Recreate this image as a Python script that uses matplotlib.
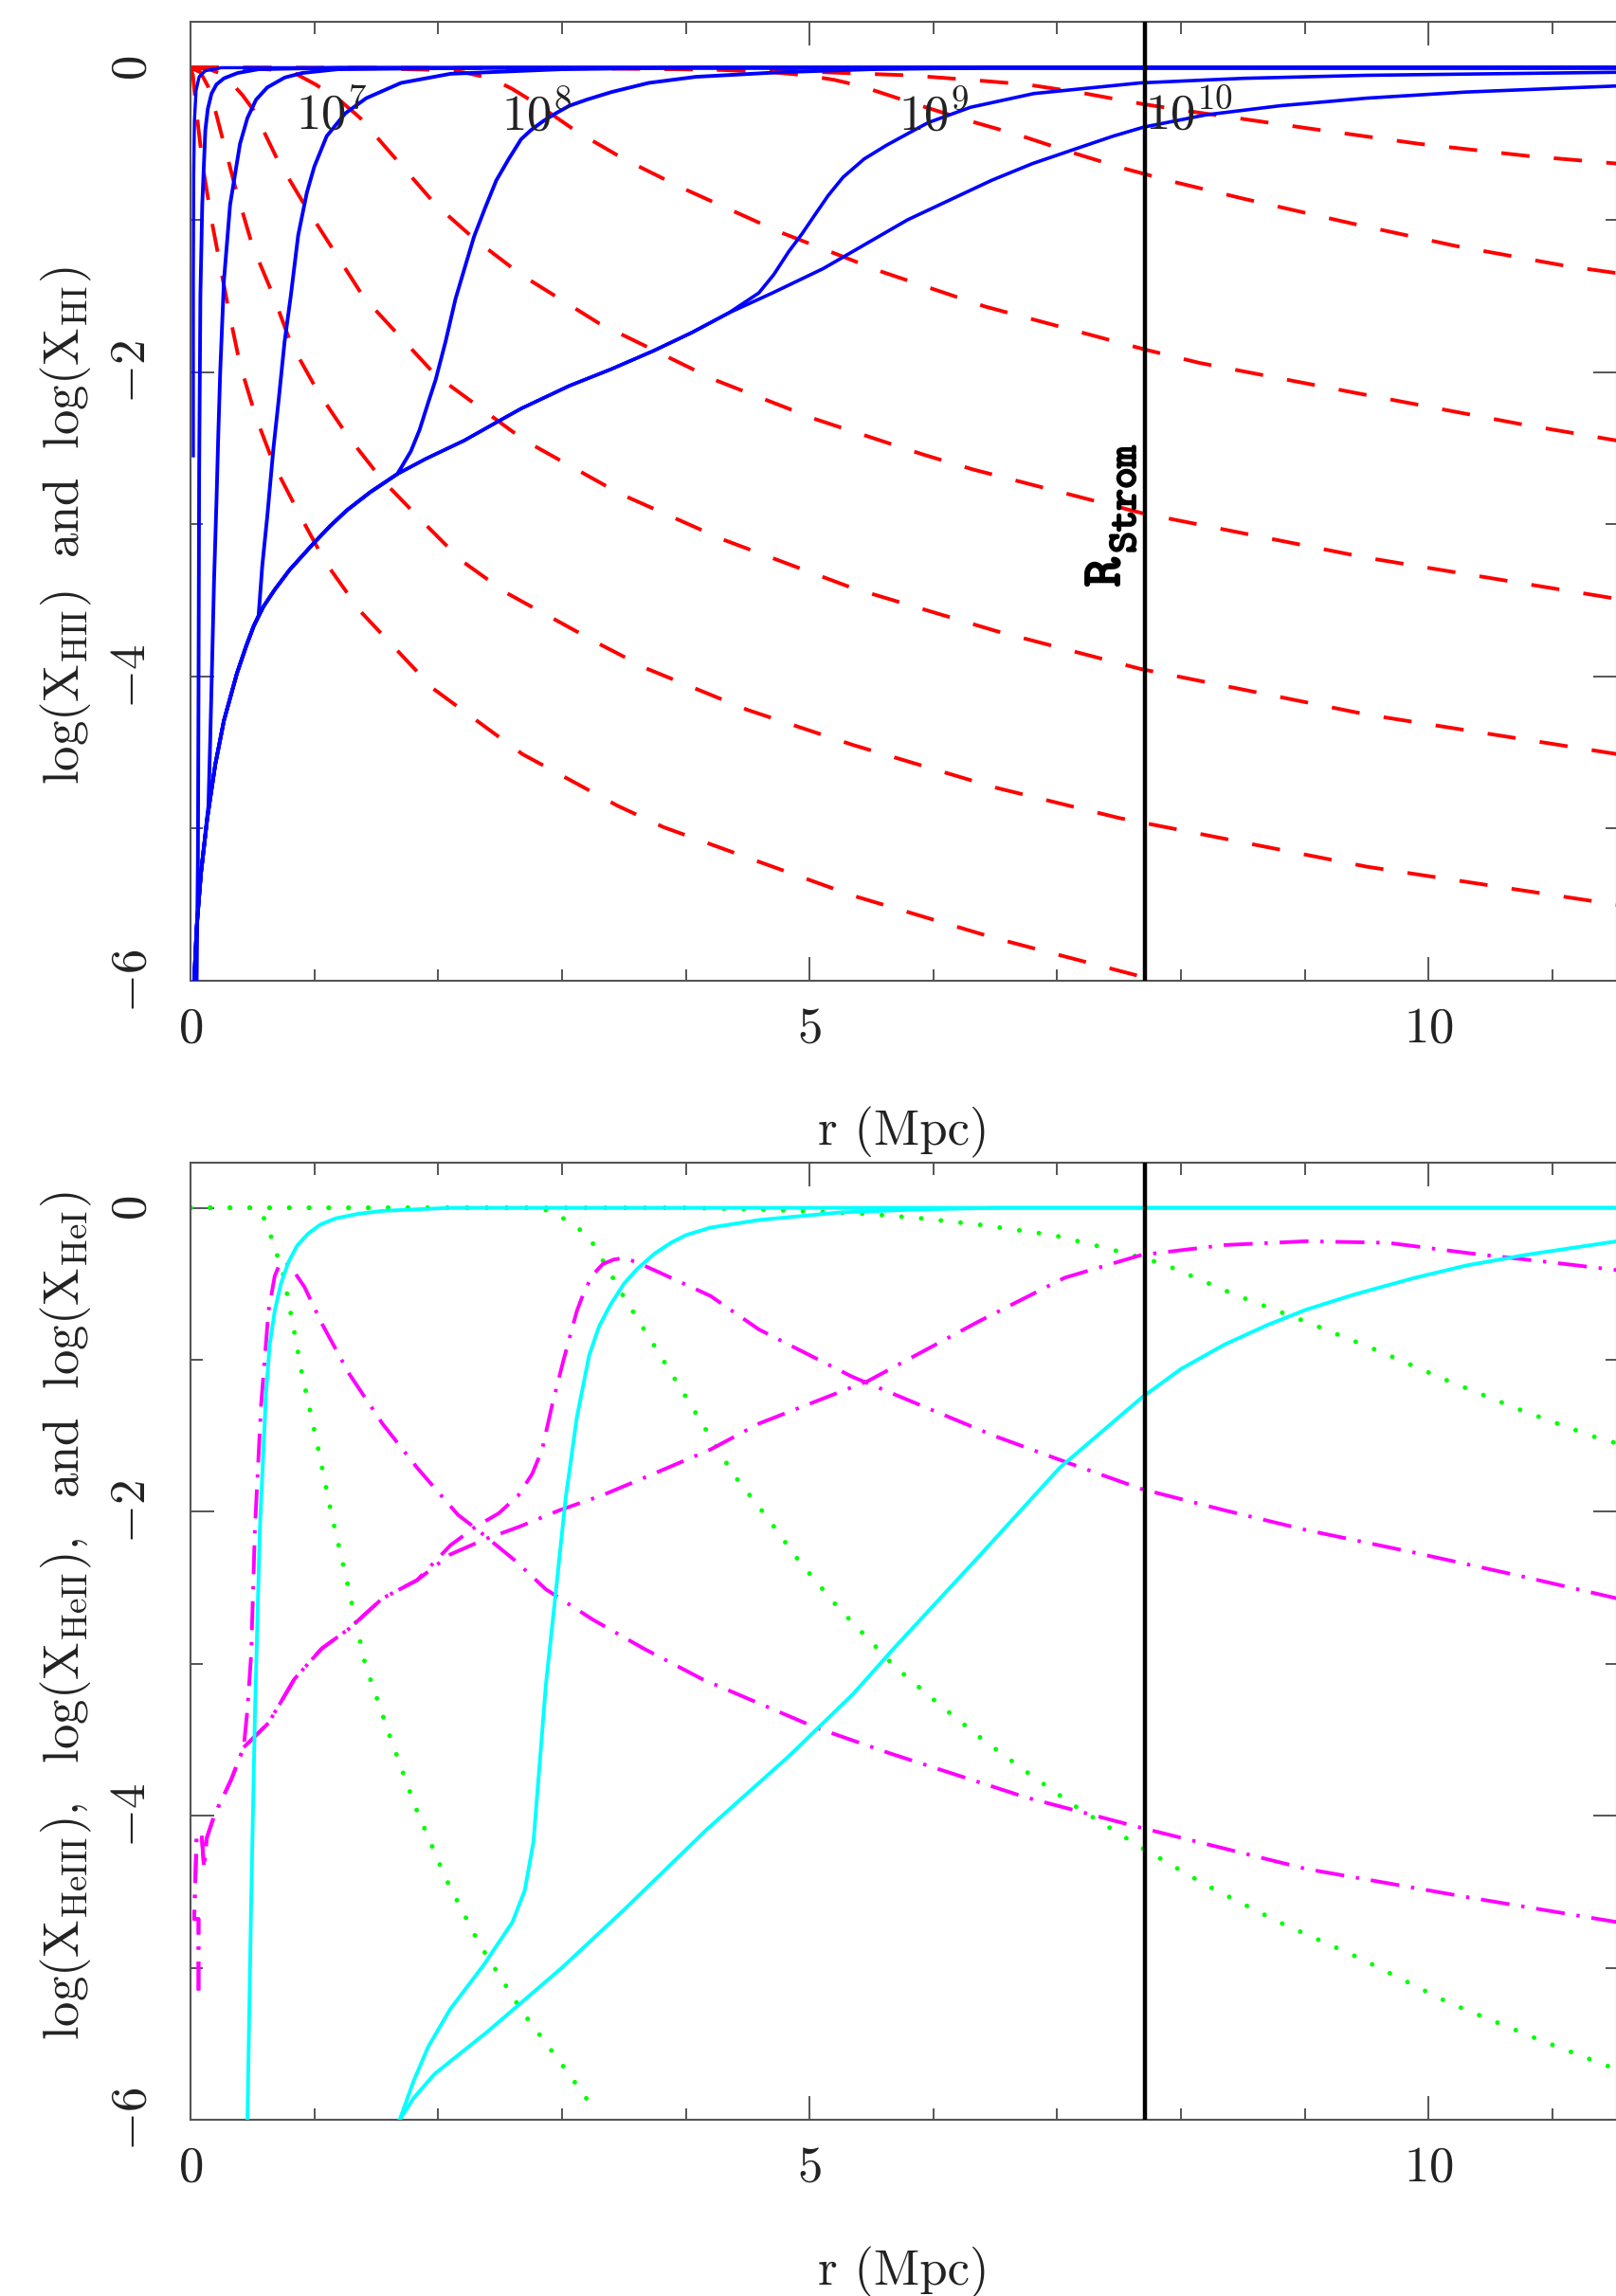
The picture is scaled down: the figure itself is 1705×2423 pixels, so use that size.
import matplotlib
matplotlib.use('Agg')
import matplotlib.pyplot as plt
import matplotlib.patheffects as pe
from matplotlib.ticker import MultipleLocator

plt.rcParams['font.family'] = 'cmr10'
plt.rcParams['mathtext.fontset'] = 'cm'
plt.rcParams['axes.formatter.use_mathtext'] = True
plt.rcParams['lines.scale_dashes'] = False

# ---------------- top panel : log(X_HII) (blue) and log(X_HI) (red) ----------------
# shared lower envelope of the late-time X_HII curves
env_r = [0.03, 0.05, 0.085, 0.136, 0.20, 0.27, 0.375, 0.45, 0.51, 0.59, 0.68, 0.8, 0.9, 1.0, 1.13,
         1.26, 1.45, 1.67, 1.9, 2.21, 2.45, 2.67, 3.06, 3.4, 3.74, 4.05, 4.35, 4.7, 5.11, 5.45, 5.79,
         6.13, 6.47, 6.8, 7.16, 7.45, 7.70, 8.2, 8.8, 9.5, 10.3, 11.52]
env_y = [-6.0, -5.65, -5.29, -4.93, -4.58, -4.29, -3.98, -3.8, -3.67, -3.54, -3.43, -3.3, -3.21, -3.12,
         -3.01, -2.91, -2.79, -2.67, -2.57, -2.45, -2.34, -2.24, -2.09, -1.98, -1.86, -1.74, -1.61,
         -1.48, -1.32, -1.16, -1.0, -0.87, -0.74, -0.63, -0.53, -0.45, -0.39, -0.31, -0.25, -0.20,
         -0.16, -0.12]

hii_a_r = [0.023, 0.023, 0.026, 0.032, 0.045, 0.07, 0.12, 0.25, 11.52]
hii_a_y = [-2.55, -1.4, -0.7, -0.35, -0.15, -0.06, -0.02, 0.0, 0.0]

hii_b_r = [0.05, 0.06, 0.065, 0.07, 0.08, 0.095, 0.12, 0.14, 0.17, 0.21, 0.27, 0.38, 0.55, 1.2, 11.52]
hii_b_y = [-6.0, -5.2, -4.1, -2.67, -1.5, -0.9, -0.41, -0.27, -0.17, -0.11, -0.07, -0.035, -0.01,
           0.0, 0.0]

hii_c_r = [0.03, 0.05, 0.085, 0.145, 0.16, 0.175, 0.19, 0.21, 0.225, 0.24, 0.27, 0.32, 0.40, 0.46,
           0.53, 0.62, 0.76, 0.9, 1.19, 2.5, 11.52]
hii_c_y = [-6.0, -5.65, -5.29, -4.85, -4.4, -3.9, -3.38, -2.85, -2.4, -2.0, -1.40, -0.90, -0.50, -0.33,
           -0.21, -0.13, -0.065, -0.035, -0.01, 0.0, 0.0]

hii_7_r = [0.55, 0.58, 0.62, 0.67, 0.71, 0.76, 0.81, 0.87, 0.94, 1.0, 1.1, 1.25, 1.42, 1.7, 2.1, 3.0,
           4.0, 11.52]
hii_7_y = [-3.6, -3.27, -2.95, -2.5, -2.2, -1.8, -1.5, -1.1, -0.82, -0.65, -0.45, -0.3, -0.2, -0.1,
           -0.04, -0.01, 0.0, 0.0]

hii_8_r = [1.70, 1.78, 1.85, 1.92, 1.98, 2.06, 2.14, 2.22, 2.29, 2.38, 2.47, 2.57, 2.67, 2.75, 2.85,
           2.95, 3.06, 3.2, 3.40, 3.7, 4.08, 4.76, 5.5, 6.5, 11.52]
hii_8_y = [-2.63, -2.52, -2.38, -2.2, -2.05, -1.8, -1.52, -1.3, -1.11, -0.92, -0.74, -0.6, -0.47, -0.41,
           -0.35, -0.30, -0.25, -0.21, -0.16, -0.10, -0.06, -0.03, -0.01, 0.0, 0.0]

hii_9_r = [4.59, 4.71, 4.83, 4.94, 5.04, 5.15, 5.27, 5.44, 5.62, 5.80, 5.96, 6.30, 6.81, 7.67, 8.5,
           9.5, 10.5, 11.52]
hii_9_y = [-1.48, -1.36, -1.21, -1.09, -0.97, -0.84, -0.72, -0.6, -0.51, -0.43, -0.36, -0.26, -0.17,
           -0.10, -0.07, -0.05, -0.04, -0.03]

hi_1_r = [0.0, 3.0, 4.0, 4.6, 5.11, 5.8, 6.30, 6.75, 7.16, 7.70, 8.10, 9.04, 9.92, 10.80, 11.52]
hi_1_y = [0.0, -0.003, -0.008, -0.015, -0.03, -0.05, -0.08, -0.11, -0.16, -0.24, -0.29, -0.40, -0.50,
          -0.58, -0.63]

hi_2_r = [0.0, 3.5, 4.3, 4.7, 4.97, 5.2, 5.41, 5.86, 6.25, 6.68, 7.09, 7.53, 7.94, 8.50, 9.36, 10.21,
          11.09, 11.52]
hi_2_y = [0.0, -0.005, -0.015, -0.03, -0.05, -0.08, -0.12, -0.24, -0.34, -0.44, -0.55, -0.66, -0.75,
          -0.86, -1.02, -1.17, -1.30, -1.35]

hi_3_r = [0.0, 1.5, 2.0, 2.2, 2.43, 2.6, 2.8, 3.12, 3.5, 3.97, 4.76, 5.58, 6.42, 7.29, 7.70, 8.15,
          9.43, 10.73, 11.52]
hi_3_y = [0.0, -0.005, -0.015, -0.03, -0.07, -0.14, -0.24, -0.42, -0.6, -0.79, -1.08, -1.34, -1.57,
          -1.76, -1.85, -1.94, -2.14, -2.34, -2.45]

hi_4_r = [0.0, 0.5, 0.7, 0.85, 1.01, 1.2, 1.37, 1.68, 1.98, 2.30, 2.67, 3.3, 4.23, 5.05, 5.91, 6.32,
          7.70, 9.5, 11.52]
hi_4_y = [0.0, -0.005, -0.015, -0.04, -0.11, -0.21, -0.33, -0.62, -0.90, -1.13, -1.36, -1.68, -2.05,
          -2.31, -2.54, -2.64, -2.93, -3.22, -3.49]

hi_5_r = [0.0, 0.15, 0.25, 0.33, 0.42, 0.51, 0.7, 0.92, 1.40, 1.98, 2.7, 3.47, 4.3, 5.35, 6.5, 7.67,
          9.5, 11.52]
hi_5_y = [0.0, -0.01, -0.04, -0.1, -0.18, -0.28, -0.6, -0.90, -1.51, -2.02, -2.45, -2.8, -3.1, -3.42,
          -3.7, -3.95, -4.25, -4.51]

hi_6_r = [0.0, 0.08, 0.14, 0.2, 0.27, 0.36, 0.50, 0.66, 0.81, 1.03, 1.27, 1.55, 1.86, 2.19, 2.55,
          3.31, 3.69, 4.5, 5.35, 6.5, 7.50, 9.5, 11.52]
hi_6_y = [0.0, -0.03, -0.12, -0.28, -0.5, -0.78, -1.17, -1.48, -1.81, -2.13, -2.42, -2.71, -2.97,
          -3.24, -3.45, -3.79, -3.95, -4.22, -4.45, -4.73, -4.93, -5.25, -5.50]

hi_7_r = [0.0, 0.02, 0.05, 0.1, 0.17, 0.24, 0.31, 0.40, 0.53, 0.68, 0.89, 1.09, 1.37, 1.96, 2.68,
          3.45, 3.82, 4.6, 5.35, 6.5, 7.67, 7.87]
hi_7_y = [0.0, -0.05, -0.3, -0.65, -1.0, -1.3, -1.6, -1.95, -2.30, -2.62, -2.95, -3.25, -3.57, -4.08,
          -4.51, -4.85, -4.99, -5.22, -5.44, -5.72, -5.97, -6.02]

time_labels = ['10^{7}', '10^{8}', '10^{9}', '10^{10}']
time_label_r = [0.85, 2.51, 5.72, 7.71]
time_label_y = [-0.405, -0.405, -0.405, -0.40]

r_strom = 7.71

# ---------------- bottom panel : helium ----------------
hei_1_r = [0.0, 0.5, 0.57, 0.66, 0.75, 0.83, 0.90, 1.01, 1.14, 1.27, 1.41, 1.62, 1.82, 2.06, 2.33,
           2.68, 3.03, 3.25]
hei_1_y = [0.0, 0.0, -0.02, -0.21, -0.44, -0.78, -1.09, -1.50, -2.02, -2.48, -3.0, -3.50, -3.95, -4.41,
           -4.84, -5.29, -5.67, -5.92]

hei_2_r = [0.0, 2.8, 2.94, 3.21, 3.34, 3.51, 3.74, 3.96, 4.17, 4.39, 4.66, 4.92, 5.23, 5.69, 6.05,
           6.40, 6.80, 7.15, 7.68, 8.21, 8.79, 9.45, 10.16, 10.91, 11.52]
hei_2_y = [0.0, 0.0, -0.03, -0.18, -0.36, -0.60, -0.90, -1.19, -1.47, -1.76, -2.04, -2.33, -2.63, -3.02,
           -3.27, -3.50, -3.74, -3.94, -4.21, -4.46, -4.70, -4.94, -5.23, -5.48, -5.67]

hei_3_r = [0.0, 4.0, 4.59, 5.47, 5.91, 6.36, 6.97, 7.42, 7.86, 8.43, 9.01, 9.59, 10.16, 10.74, 11.31,
           11.52]
hei_3_y = [0.0, 0.0, -0.01, -0.04, -0.07, -0.11, -0.18, -0.27, -0.37, -0.57, -0.75, -0.94, -1.14, -1.33,
           -1.50, -1.55]

heiii_1_r = [0.46, 0.49, 0.52, 0.56, 0.61, 0.64, 0.68, 0.73, 0.79, 0.86, 0.95, 1.05, 1.17, 1.35, 1.55,
             2.10, 11.52]
heiii_1_y = [-6.0, -4.57, -3.35, -2.12, -1.22, -0.9, -0.68, -0.5, -0.36, -0.25, -0.17, -0.11, -0.07,
             -0.04, -0.02, 0.0, 0.0]

heiii_2_r = [1.69, 1.8, 1.92, 2.10, 2.37, 2.60, 2.70, 2.77, 2.81, 2.87, 2.95, 3.03, 3.12, 3.22, 3.3,
             3.39, 3.5, 3.61, 3.75, 3.88, 4.0, 4.20, 4.59, 5.25, 5.9, 6.5, 11.52]
heiii_2_y = [-6.0, -5.75, -5.52, -5.27, -4.98, -4.70, -4.49, -4.17, -3.76, -3.14, -2.53, -1.91, -1.38,
             -0.97, -0.78, -0.64, -0.5, -0.40, -0.3, -0.23, -0.18, -0.13, -0.08, -0.03, -0.01, 0.0, 0.0]

heiii_3_r = [1.69, 1.8, 1.97, 2.4, 3.0, 3.5, 4.17, 4.83, 5.35, 5.69, 6.36, 7.02, 7.68, 8.0, 8.35, 8.7,
             9.01, 9.4, 9.89, 10.3, 10.78, 11.52]
heiii_3_y = [-6.0, -5.86, -5.7, -5.42, -5.0, -4.62, -4.09, -3.61, -3.2, -2.89, -2.30, -1.71, -1.25,
             -1.06, -0.90, -0.77, -0.67, -0.57, -0.46, -0.38, -0.31, -0.22]

heii_1_r = [0.065, 0.065, 0.03, 0.05, 0.09, 0.11, 0.13, 0.2, 0.25, 0.33, 0.43, 0.46, 0.49, 0.52, 0.57,
            0.63, 0.68, 0.72, 0.76, 0.82, 0.92, 1.06, 1.28, 1.55, 1.83, 2.16, 2.32, 2.62, 2.87, 3.25,
            3.66, 4.13, 4.59, 5.05, 5.65, 6.75, 7.68, 9.01, 10.34, 11.52]
heii_1_y = [-5.15, -4.68, -4.68, -4.12, -4.12, -4.35, -4.15, -3.98, -3.9, -3.76, -3.55, -3.3, -2.94,
            -2.12, -1.30, -0.68, -0.45, -0.37, -0.35, -0.40, -0.52, -0.76, -1.09, -1.42, -1.71, -2.02,
            -2.12, -2.32, -2.51, -2.71, -2.90, -3.10, -3.26, -3.42, -3.59, -3.88, -4.08, -4.35, -4.54,
            -4.70]

heii_3_r = [0.43, 0.63, 0.84, 1.06, 1.28, 1.55, 1.83, 2.10, 2.38, 2.65, 2.98, 3.33, 3.74, 4.20, 4.59,
            5.47, 6.36, 7.06, 7.68, 8.35, 9.01, 9.67, 10.34, 11.0, 11.52]
heii_3_y = [-3.55, -3.39, -3.10, -2.90, -2.77, -2.57, -2.45, -2.28, -2.18, -2.10, -1.99, -1.89, -1.75,
            -1.59, -1.42, -1.14, -0.75, -0.46, -0.31, -0.245, -0.22, -0.23, -0.30, -0.36, -0.41]

heii_2_r = [1.83, 2.10, 2.30, 2.49, 2.65, 2.76, 2.84, 2.92, 3.01, 3.12, 3.18, 3.25, 3.33, 3.42, 3.5,
            3.61, 3.88, 4.20, 4.59, 5.34, 5.87, 6.49, 7.06, 7.68, 8.35, 9.01, 9.89, 10.78, 11.52]
heii_2_y = [-2.45, -2.22, -2.10, -2.01, -1.89, -1.75, -1.59, -1.30, -1.01, -0.68, -0.55, -0.44, -0.37,
            -0.34, -0.33, -0.36, -0.46, -0.58, -0.80, -1.11, -1.29, -1.50, -1.67, -1.85, -1.99, -2.12,
            -2.27, -2.43, -2.57]

x_major = [0, 5, 10]
y_major = [-6, -4, -2, 0]

# ---------------- figure ----------------
BLUE, RED = '#0000ff', '#ff0000'
CYAN, GREEN, MAGENTA = '#00ffff', '#00ff00', '#ff00ff'
AXC = '#555555'
TXT = '#222222'
FS = 38

fig = plt.figure(figsize=(17.06, 24.23), dpi=100)
ax1 = fig.add_axes([0.1178, 0.5728, 0.8822, 0.4176])
ax2 = fig.add_axes([0.1178, 0.0768, 0.8822, 0.4170])

dashed = (0, (21.5, 18.5))
dotted = (0, (0.01, 15.0))
dashdot = (0, (22, 9, 2.5, 9))

# top panel
for rr, yy in [(hi_1_r, hi_1_y), (hi_2_r, hi_2_y), (hi_3_r, hi_3_y), (hi_4_r, hi_4_y),
               (hi_5_r, hi_5_y), (hi_6_r, hi_6_y), (hi_7_r, hi_7_y)]:
    ax1.plot(rr, yy, color=RED, lw=2.8, linestyle=dashed, zorder=2)

ax1.plot(hii_a_r, hii_a_y, color=BLUE, lw=2.4, zorder=3)
ax1.plot(hii_b_r, hii_b_y, color=BLUE, lw=2.8, zorder=3)
ax1.plot(hii_c_r, hii_c_y, color=BLUE, lw=2.8, zorder=3)
ax1.plot(env_r[:9] + hii_7_r, env_y[:9] + hii_7_y, color=BLUE, lw=2.8, zorder=3)
ax1.plot(env_r[:18] + hii_8_r, env_y[:18] + hii_8_y, color=BLUE, lw=2.8, zorder=3)
ax1.plot(env_r[:27] + hii_9_r, env_y[:27] + hii_9_y, color=BLUE, lw=2.6, zorder=3)
ax1.plot(env_r, env_y, color=BLUE, lw=2.6, zorder=3)

for lab, xr, yl in zip(time_labels, time_label_r, time_label_y):
    ax1.text(xr, yl, r'$\mathrm{' + lab + '}$', fontsize=FS, color=TXT, ha='left', va='baseline')

bold = [pe.withStroke(linewidth=1.6, foreground='black')]
ax1.text(7.50, -3.41, 'R', fontsize=42, family='cmtt10', rotation=90, rotation_mode='anchor',
         ha='left', va='baseline', color='black', path_effects=bold)
ax1.text(7.63, -3.19, 'Strom', fontsize=31, family='cmtt10', rotation=90, rotation_mode='anchor',
         ha='left', va='baseline', color='black', path_effects=bold)

# bottom panel
for rr, yy in [(hei_1_r, hei_1_y), (hei_2_r, hei_2_y), (hei_3_r, hei_3_y)]:
    ax2.plot(rr, yy, color=GREEN, lw=3.6, linestyle=dotted, dash_capstyle='round', zorder=2)
ax2.plot(heii_1_r, heii_1_y, color=MAGENTA, lw=2.8, linestyle=dashdot, zorder=2.5)
ax2.plot(heii_3_r[:7] + heii_2_r, heii_3_y[:7] + heii_2_y, color=MAGENTA, lw=2.8,
         linestyle=dashdot, zorder=2.5)
ax2.plot(heii_1_r[:11] + heii_3_r, heii_1_y[:11] + heii_3_y, color=MAGENTA, lw=2.8,
         linestyle=dashdot, zorder=2.5)
for rr, yy in [(heiii_1_r, heiii_1_y), (heiii_2_r, heiii_2_y), (heiii_3_r, heiii_3_y)]:
    ax2.plot(rr, yy, color=CYAN, lw=2.8, zorder=3)

for ax in (ax1, ax2):
    ax.axvline(r_strom, color='black', lw=3.2, zorder=4)
    ax.set_xlim(0, 11.52)
    ax.set_ylim(-6, 0.30)
    ax.set_xticks(x_major)
    ax.set_yticks(y_major)
    ax.xaxis.set_minor_locator(MultipleLocator(1))
    ax.yaxis.set_minor_locator(MultipleLocator(1))
    ax.tick_params(which='both', direction='in', top=True, right=True, color=AXC, width=1.4,
                   labelsize=FS, labelcolor=TXT)
    ax.tick_params(which='major', length=18)
    ax.tick_params(which='minor', length=9)
    ax.tick_params(axis='x', pad=20)
    ax.tick_params(axis='y', pad=27, labelrotation=90)
    for lab in ax.get_yticklabels():
        lab.set_va('center')
    for sp in ax.spines.values():
        sp.set_color(AXC)
        sp.set_linewidth(1.5)
    ax.set_xlabel('r (Mpc)', fontsize=FS, color=TXT)
    ax.xaxis.label.set_va('baseline')

ax1.xaxis.set_label_coords(0.5, -0.171)
ax2.xaxis.set_label_coords(0.5, -0.1732)

ax1.set_ylabel(r'$\mathrm{log(X_{HII})\ \ and\ \ log(X_{HI})}$', fontsize=FS, color=TXT)
ax2.set_ylabel(r'$\mathrm{log(X_{HeIII}),\ \ log(X_{HeII}),\ \ and\ \ log(X_{HeI})}$',
               fontsize=FS, color=TXT)
ax1.yaxis.set_label_coords(-0.0784, 0.475)
ax2.yaxis.set_label_coords(-0.0784, 0.5265)
for ax in (ax1, ax2):
    ax.yaxis.label.set_va('baseline')

fig.savefig('out.png', dpi=100, facecolor='white')
